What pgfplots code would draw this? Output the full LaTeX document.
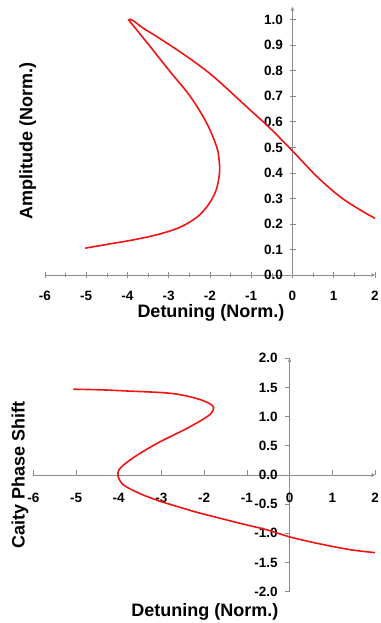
\documentclass[border=0pt]{standalone}
\usepackage{pgfplots}
\pgfplotsset{compat=1.18}
\usepackage{fontspec}
\setmainfont{Liberation Sans}
\definecolor{axgray}{RGB}{140,140,140}
\definecolor{curvered}{RGB}{240,20,20}
\newcommand{\labfont}{\bfseries\fontsize{18}{18}\selectfont}
\begin{document}
\begin{tikzpicture}
\useasboundingbox (0,0) rectangle (380pt,623pt);
\pgfplotsset{
  every axis/.append style={
    scale only axis, clip=false,
    /pgf/number format/assume math mode=true,
    tick label style={font=\bfseries\fontsize{13.5}{13.5}\selectfont, text=black},
    axis line style={axgray, line width=0.8pt, -},
    every tick/.append style={axgray, line width=0.7pt},
  },
}
% Top: amplitude
\begin{axis}[
  at={(45pt,348pt)}, anchor=south west,
  width=330pt, height=268pt,
  xmin=-6, xmax=2, ymin=0, ymax=1.05,
  axis x line=bottom, axis y line=left,
  axis y line shift=-247.5pt,
  xtick={-6,-5,-4,-3,-2,-1,0,1,2},
  minor x tick num=1,
  ytick={0,0.1,0.2,0.3,0.4,0.5,0.6,0.7,0.8,0.9,1.0},
  yticklabels={0.0,0.1,0.2,0.3,0.4,0.5,0.6,0.7,0.8,0.9,1.0},
  tick align=center,
  major tick length=6pt, minor tick length=4pt,
  xticklabel style={anchor=center, yshift=-18pt},
  yticklabel style={anchor=east, xshift=-3pt},
  xlabel={Detuning (Norm.)},
  ylabel={Amplitude (Norm.)},
  xlabel style={at={(axis description cs:0.503,-0.142)}, anchor=center, font=\labfont},
  ylabel style={at={(axis description cs:-0.052,0.5)}, anchor=center, font=\labfont},
]
\addplot[curvered, line width=1.6pt, smooth, tension=0.55] coordinates {
(-5.03,0.105) (-4.42,0.122) (-3.78,0.140) (-3.21,0.161) (-2.73,0.187)
(-2.32,0.226) (-2.04,0.275) (-1.85,0.333) (-1.77,0.399) (-1.78,0.451)
(-1.84,0.503) (-2.08,0.595) (-2.48,0.700) (-2.97,0.797) (-3.45,0.895)
(-3.80,0.965) (-3.97,1.000)
(-3.86,0.996) (-3.62,0.967) (-3.29,0.934) (-2.56,0.856) (-1.92,0.778)
(-1.03,0.647) (-0.55,0.576) (0,0.486) (0.59,0.386) (1.15,0.307)
(1.64,0.255) (2.0,0.222)
};
\end{axis}
% Bottom: phase
\begin{axis}[
  at={(33.3pt,31.3pt)}, anchor=south west,
  width=341.7pt, height=233.4pt,
  xmin=-6, xmax=2, ymin=-2, ymax=2,
  axis x line=bottom, axis y line=left,
  axis x line shift=-116.7pt,
  axis y line shift=-256.3pt,
  xtick={-6,-5,-4,-3,-2,-1,0,1,2},
  ytick={-2,-1.5,-1,-0.5,0,0.5,1,1.5,2},
  yticklabels={-2.0,-1.5,-1.0,-0.5,0.0,0.5,1.0,1.5,2.0},
  tick align=center,
  major tick length=5pt,
  xtick style={yshift=2.5pt},
  ytick style={xshift=-2.5pt},
  xticklabel style={anchor=center, yshift=-20pt},
  yticklabel style={anchor=east, xshift=-6pt},
  xlabel={Detuning (Norm.)},
  ylabel={Caity Phase Shift},
  xlabel style={at={(axis description cs:0.502,-0.086)}, anchor=center, font=\labfont},
  ylabel style={at={(axis description cs:-0.039,0.5)}, anchor=center, font=\labfont},
]
\addplot[curvered, line width=1.6pt, smooth, tension=0.55] coordinates {
(-5.06,1.47) (-4.43,1.46) (-3.81,1.44) (-2.79,1.40) (-2.17,1.31)
(-1.82,1.20) (-1.79,1.11) (-1.93,1.00) (-2.40,0.80) (-3.03,0.57)
(-3.57,0.34) (-3.92,0.15) (-4.02,0.04) (-3.99,-0.07) (-3.87,-0.18)
(-3.50,-0.32) (-3.03,-0.45) (-2.40,-0.59) (-2.09,-0.655) (-1.15,-0.83)
(-0.53,-0.94) (0,-1.06) (0.64,-1.17) (1.42,-1.28) (2.0,-1.33)
};
\end{axis}
\end{tikzpicture}
\end{document}
